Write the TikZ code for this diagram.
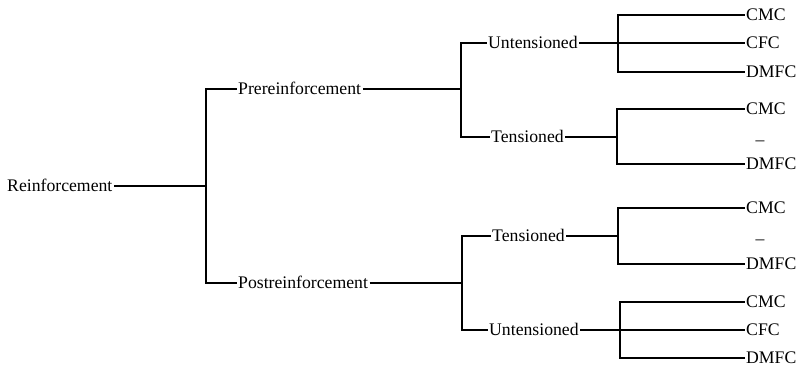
\documentclass[tikz,border=0pt]{standalone}
\usepackage{fontspec}
\setmainfont{Liberation Serif}
\begin{document}
\begin{tikzpicture}[x=1pt,y=1pt,
  lbl/.style={anchor=west,inner sep=1.5pt,font=\fontsize{17.7}{20}\selectfont,text height=12pt,text depth=1pt},
  conn/.style={line width=1.3pt}]
\useasboundingbox (0,0) rectangle (802,-369);
% nodes
\node[lbl] (R) at (5.5,-186) {Reinforcement};
\node[lbl] (Pre) at (236.5,-89) {Prereinforcement};
\node[lbl] (Post) at (236.5,-283) {Postreinforcement};
\node[lbl] (U1) at (486.5,-43) {Untensioned};
\node[lbl] (T1) at (489.5,-137) {Tensioned};
\node[lbl] (T2) at (490.5,-236) {Tensioned};
\node[lbl] (U2) at (487.5,-330) {Untensioned};
% leaves
\node[lbl] (a1) at (744.5,-15) {CMC};
\node[lbl] (a2) at (744.5,-43) {CFC};
\node[lbl] (a3) at (744.5,-72) {DMFC};
\node[lbl] (b1) at (744.5,-109) {CMC};
\node[lbl,anchor=center] (b2) at (760,-139.5) {–};
\node[lbl] (b3) at (744.5,-164) {DMFC};
\node[lbl] (c1) at (744.5,-208) {CMC};
\node[lbl,anchor=center] (c2) at (760,-238.5) {–};
\node[lbl] (c3) at (744.5,-264) {DMFC};
\node[lbl] (d1) at (744.5,-302) {CMC};
\node[lbl] (d2) at (744.5,-330) {CFC};
\node[lbl] (d3) at (744.5,-358) {DMFC};
% junctions
\coordinate (j1) at (206,-186);
\coordinate (j2) at (461,-89);
\coordinate (j3) at (618,-43);
\coordinate (j4) at (617,-137);
\coordinate (j5) at (462,-283);
\coordinate (j6) at (618,-236);
\coordinate (j7) at (620,-330);
% connectors
\draw[conn] (R.east) -- (j1);
\draw[conn] (Pre.west) -| (j1) |- (Post.west);
\draw[conn] (Pre.east) -- (j2);
\draw[conn] (U1.west) -| (j2) |- (T1.west);
\draw[conn] (U1.east) -- (a2.west);
\draw[conn] (a1.west) -| (j3) |- (a3.west);
\draw[conn] (T1.east) -- (j4);
\draw[conn] (b1.west) -| (j4) |- (b3.west);
\draw[conn] (Post.east) -- (j5);
\draw[conn] (T2.west) -| (j5) |- (U2.west);
\draw[conn] (T2.east) -- (j6);
\draw[conn] (c1.west) -| (j6) |- (c3.west);
\draw[conn] (U2.east) -- (d2.west);
\draw[conn] (d1.west) -| (j7) |- (d3.west);
\end{tikzpicture}
\end{document}
